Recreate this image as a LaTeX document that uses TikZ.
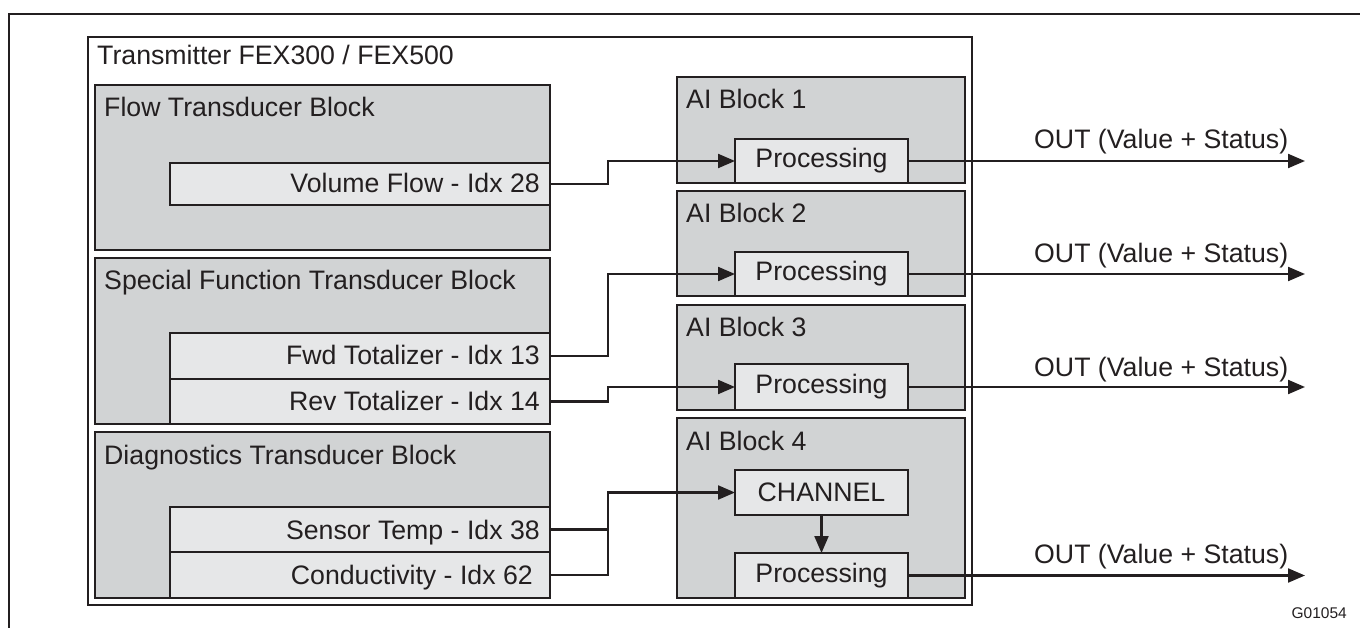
\documentclass[tikz,border=0pt]{standalone}
\usepackage{fontspec}
\setmainfont{Liberation Sans}
\usetikzlibrary{arrows.meta}

\definecolor{ink}{HTML}{231F20}
\definecolor{blockgray}{HTML}{D1D3D4}
\definecolor{cellgray}{HTML}{E6E7E8}

\newcommand{\labelfont}{\fontsize{26.7}{30}\selectfont}

\begin{document}
\begin{tikzpicture}[
    x=1pt, y=-1pt,
    frame/.style={draw=ink, line width=2.3pt, anchor=north west, inner sep=0pt, outer sep=0pt},
    block/.style={frame, fill=blockgray},
    cell/.style={frame, fill=cellgray},
    title/.style={anchor=base west, inner sep=0pt, text=ink, font=\labelfont},
    celltext/.style={anchor=base east, inner sep=0pt, text=ink, font=\labelfont},
    boxtext/.style={inner sep=0pt, text=ink, font=\labelfont},
    wire/.style={draw=ink, line width=2.2pt},
    flow/.style={wire, -{Triangle[length=17pt, width=14pt]}},
  ]
  \useasboundingbox (0,0) rectangle (1360,628);

  % sheet border (left and top edges)
  \draw[ink, line width=2.6pt] (9,628) -- (9,14) -- (1360,14);

  % transmitter housing
  \node[frame, minimum width=884pt, minimum height=568pt] (tx) at (88,37) {};
  \node[title] (txT) at (97,65) {Transmitter FEX300 / FEX500};

  % ---- transducer blocks ----
  \node[block, minimum width=455pt, minimum height=165pt] (ftb) at (95,85) {};
  \node[title] (ftbT) at (104,117) {Flow Transducer Block};
  \node[cell, minimum width=380pt, minimum height=42pt] (vf) at (170,163) {};
  \node[celltext] (vfT) at (540,193) {Volume Flow - Idx 28};

  \node[block, minimum width=455pt, minimum height=166pt] (sfb) at (95,258) {};
  \node[title] (sfbT) at (104,290) {Special Function Transducer Block};
  \node[cell, minimum width=380pt, minimum height=46pt] (fwd) at (170,333) {};
  \node[celltext] (fwdT) at (540,364) {Fwd Totalizer - Idx 13};
  \node[cell, minimum width=380pt, minimum height=45pt] (rev) at (170,379) {};
  \node[celltext] (revT) at (540,410) {Rev Totalizer - Idx 14};

  \node[block, minimum width=455pt, minimum height=166pt] (dtb) at (95,432) {};
  \node[title] (dtbT) at (104,464) {Diagnostics Transducer Block};
  \node[cell, minimum width=380pt, minimum height=45pt] (st) at (170,507) {};
  \node[celltext] (stT) at (540,539) {Sensor Temp - Idx 38};
  \node[cell, minimum width=380pt, minimum height=46pt] (cd) at (170,552) {};
  \node[celltext] (cdT) at (533,584) {Conductivity - Idx 62};

  % ---- AI blocks ----
  \node[block, minimum width=288pt, minimum height=106pt] (ai1) at (677,77) {};
  \node[title] (ai1T) at (686,109) {AI Block 1};
  \node[cell, minimum width=173pt, minimum height=44pt] (p1) at (735,139) {};
  \node[boxtext] (p1T) at (p1.center) {Processing};

  \node[block, minimum width=288pt, minimum height=105pt] (ai2) at (677,191) {};
  \node[title] (ai2T) at (686,223) {AI Block 2};
  \node[cell, minimum width=173pt, minimum height=44pt] (p2) at (735,252) {};
  \node[boxtext] (p2T) at (p2.center) {Processing};

  \node[block, minimum width=288pt, minimum height=105pt] (ai3) at (677,305) {};
  \node[title] (ai3T) at (686,336) {AI Block 3};
  \node[cell, minimum width=173pt, minimum height=46pt] (p3) at (735,364) {};
  \node[boxtext] (p3T) at (p3.center) {Processing};

  \node[block, minimum width=288pt, minimum height=180pt] (ai4) at (677,418) {};
  \node[title] (ai4T) at (686,450) {AI Block 4};
  \node[cell, minimum width=173pt, minimum height=45pt] (ch) at (735,470) {};
  \node[boxtext] (chT) at (ch.center) {CHANNEL};
  \node[cell, minimum width=173pt, minimum height=45pt] (p4) at (735,553) {};
  \node[boxtext] (p4T) at (p4.center) {Processing};

  % ---- signal routing ----
  \coordinate (bus) at (608,0);
  \draw[flow] (vf.east) -- (vf.east -| bus) |- (p1.west);
  \draw[flow] (fwd.east) -- (fwd.east -| bus) |- (p2.west);
  \draw[flow] (rev.east) -- (rev.east -| bus) |- (p3.west);
  \draw[wire] (st.east) -- (st.east -| bus);
  \draw[flow] (cd.east) -- (cd.east -| bus) |- (ch.west);
  \draw[flow] (ch.south) -- (p4.north);

  % ---- outputs ----
  \coordinate (outx) at (1305,0);
  \coordinate (o1) at (p1.east -| outx);
  \coordinate (o2) at (p2.east -| outx);
  \coordinate (o3) at (p3.east -| outx);
  \coordinate (o4) at (p4.east -| outx);
  \draw[flow] (p1.east) -- (o1);
  \draw[flow] (p2.east) -- (o2);
  \draw[flow] (p3.east) -- (o3);
  \draw[flow] (p4.east) -- (o4);
  \node[title] (out1) at (1034,149) {OUT (Value + Status)};
  \node[title] (out2) at (1034,263) {OUT (Value + Status)};
  \node[title] (out3) at (1034,376) {OUT (Value + Status)};
  \node[title] (out4) at (1034,563) {OUT (Value + Status)};

  % drawing number
  \node[anchor=base east, inner sep=0pt, text=ink, font=\fontsize{15.5}{18}\selectfont] (gno) at (1347,618) {G01054};
\end{tikzpicture}
\end{document}
